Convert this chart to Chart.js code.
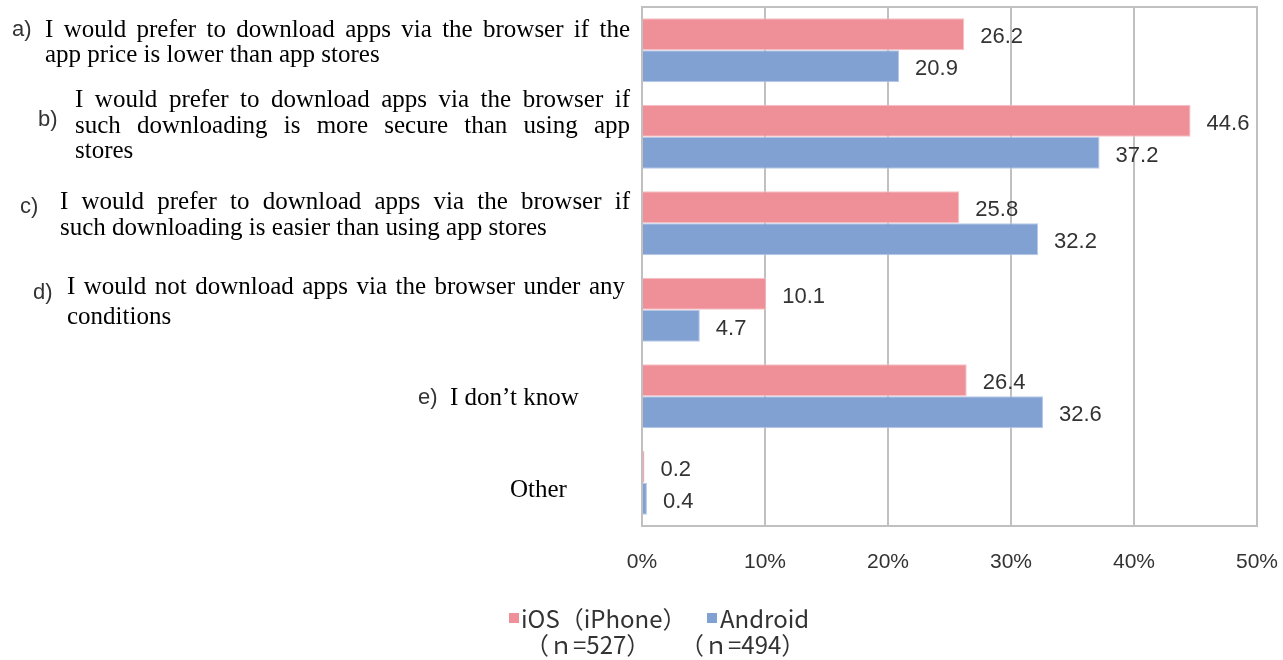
<!DOCTYPE html>
<html>
<head>
<meta charset="utf-8">
<script src="https://cdn.jsdelivr.net/npm/chart.js@4.4.1/dist/chart.umd.min.js"></script>
<style>
  html, body { margin: 0; padding: 0; background: #fff; }
  #wrap { width: 1283px; height: 660px; position: relative; }
</style>
</head>
<body>
<div id="wrap"><canvas id="c"></canvas></div>
<script>
// data
const categories = ['a', 'b', 'c', 'd', 'e', 'Other'];
const categoryPrefixes = ['a)', 'b)', 'c)', 'd)', 'e)', ''];
const categoryLines = [
  ['I would prefer to download apps via the browser if the', 'app price is lower than app stores'],
  ['I would prefer to download apps via the browser if', 'such downloading is more secure than using app', 'stores'],
  ['I would prefer to download apps via the browser if', 'such downloading is easier than using app stores'],
  ['I would not download apps via the browser under any', 'conditions'],
  ['I don\u2019t know'],
  ['Other']
];
const iosValues = [26.2, 44.6, 25.8, 10.1, 26.4, 0.2];
const androidValues = [20.9, 37.2, 32.2, 4.7, 32.6, 0.4];
const seriesNames = [['iOS（iPhone）', '（ｎ=527）'], ['Android', '（ｎ=494）']];
const xTicks = [0, 10, 20, 30, 40, 50];

const PINK = '#ef8f97';
const BLUE = '#82a1d3';
const GRID = '#c0c0c0';

// label layout (text placement only)
const labelLayout = [
  { px: 12, py: -20, tx: 45, dy: [-20, 5], right: 630, justify: [true, false] },
  { px: 38, py: -17, tx: 75, dy: [-36, -10, 15], right: 630, justify: [true, true, false] },
  { px: 20, py: -16, tx: 60, dy: [-21, 5], right: 630, justify: [true, false] },
  { px: 33, py: -17, tx: 67, dy: [-22, 8], right: 625, justify: [true, false] },
  { px: 418, py: 2, tx: 450, dy: [2], right: 630, justify: [false] },
  { px: 0, py: 0, tx: 510, dy: [8], right: 630, justify: [false] }
];

function drawJustified(ctx, text, x, right, y) {
  const words = text.split(' ');
  const widths = words.map(w => ctx.measureText(w).width);
  const total = widths.reduce((a, b) => a + b, 0);
  const gap = (right - x - total) / (words.length - 1);
  if (gap < 3) {
    ctx.fillText(text, x, y, right - x);
    return;
  }
  let cx = x;
  words.forEach((w, i) => {
    ctx.fillText(w, cx, y);
    cx += widths[i] + gap;
  });
}

const sidePlugin = {
  id: 'side',
  beforeDatasetsDraw(chart) {
    const ctx = chart.ctx;
    const a = chart.chartArea;
    ctx.save();
    ctx.strokeStyle = GRID;
    ctx.lineWidth = 2;
    ctx.strokeRect(a.left, a.top, a.right - a.left, a.bottom - a.top);
    ctx.restore();
  },
  afterDatasetsDraw(chart) {
    const ctx = chart.ctx;
    const yScale = chart.scales.y;
    ctx.save();
    // value labels
    ctx.font = '22px "Liberation Sans", Arial, sans-serif';
    ctx.fillStyle = '#333';
    ctx.textBaseline = 'middle';
    ctx.textAlign = 'left';
    chart.data.datasets.forEach((ds, di) => {
      chart.getDatasetMeta(di).data.forEach((bar, i) => {
        ctx.fillText(ds.data[i].toFixed(1), bar.x + 16, bar.y + 3);
      });
    });
    // category labels
    categories.forEach((c, i) => {
      const cy = yScale.getPixelForValue(i);
      const L = labelLayout[i];
      if (categoryPrefixes[i]) {
        ctx.font = '22px "Liberation Sans", Arial, sans-serif';
        ctx.fillStyle = '#333';
        ctx.fillText(categoryPrefixes[i], L.px, cy + L.py);
      }
      ctx.font = '25px "Liberation Serif", "Times New Roman", serif';
      ctx.fillStyle = '#000';
      categoryLines[i].forEach((line, k) => {
        if (L.justify[k]) drawJustified(ctx, line, L.tx, L.right, cy + L.dy[k]);
        else ctx.fillText(line, L.tx, cy + L.dy[k]);
      });
    });
    // legend
    const colors = [PINK, BLUE];
    const legendX = [[509, 521, 525], [707, 720, 680]];
    ctx.font = '24px "Noto Sans CJK JP", "Liberation Sans", sans-serif';
    seriesNames.forEach((name, s) => {
      ctx.fillStyle = colors[s];
      ctx.fillRect(legendX[s][0], 613, 10, 10);
      ctx.fillStyle = '#333';
      ctx.fillText(name[0], legendX[s][1], 619);
      ctx.fillText(name[1], legendX[s][2], 645);
    });
    ctx.restore();
  }
};

const ctx = document.getElementById('c').getContext('2d');
new Chart(ctx, {
  type: 'bar',
  data: {
    labels: categories,
    datasets: [
      {
        label: seriesNames[0].join(' '),
        data: iosValues,
        backgroundColor: PINK,
        borderColor: '#f6c2c6',
        borderWidth: 1,
        categoryPercentage: 0.74,
        barPercentage: 1.0
      },
      {
        label: seriesNames[1].join(' '),
        data: androidValues,
        backgroundColor: BLUE,
        borderColor: '#b5c8e8',
        borderWidth: 1,
        categoryPercentage: 0.74,
        barPercentage: 1.0
      }
    ]
  },
  options: {
    indexAxis: 'y',
    responsive: true,
    maintainAspectRatio: false,
    animation: false,
    layout: { padding: { left: 642, right: 26, top: 7, bottom: 0 } },
    plugins: {
      legend: { display: false },
      tooltip: { enabled: false }
    },
    scales: {
      x: {
        min: 0,
        max: 50,
        afterBuildTicks(scale) {
          scale.ticks = xTicks.map(v => ({ value: v }));
        },
        afterFit(scale) {
          scale.height = 134;
          scale.paddingLeft = 0;
          scale.paddingRight = 0;
        },
        grid: { color: GRID, lineWidth: 2, drawTicks: false },
        border: { color: GRID, width: 2 },
        ticks: {
          padding: 24,
          color: '#333',
          font: { family: '"Liberation Sans", Arial, sans-serif', size: 21 },
          callback: v => v + '%'
        }
      },
      y: {
        grid: { display: false },
        border: { color: GRID, width: 2 },
        ticks: { display: false },
        afterFit(scale) { scale.width = 0; }
      }
    }
  },
  plugins: [sidePlugin]
});
</script>
</body>
</html>
